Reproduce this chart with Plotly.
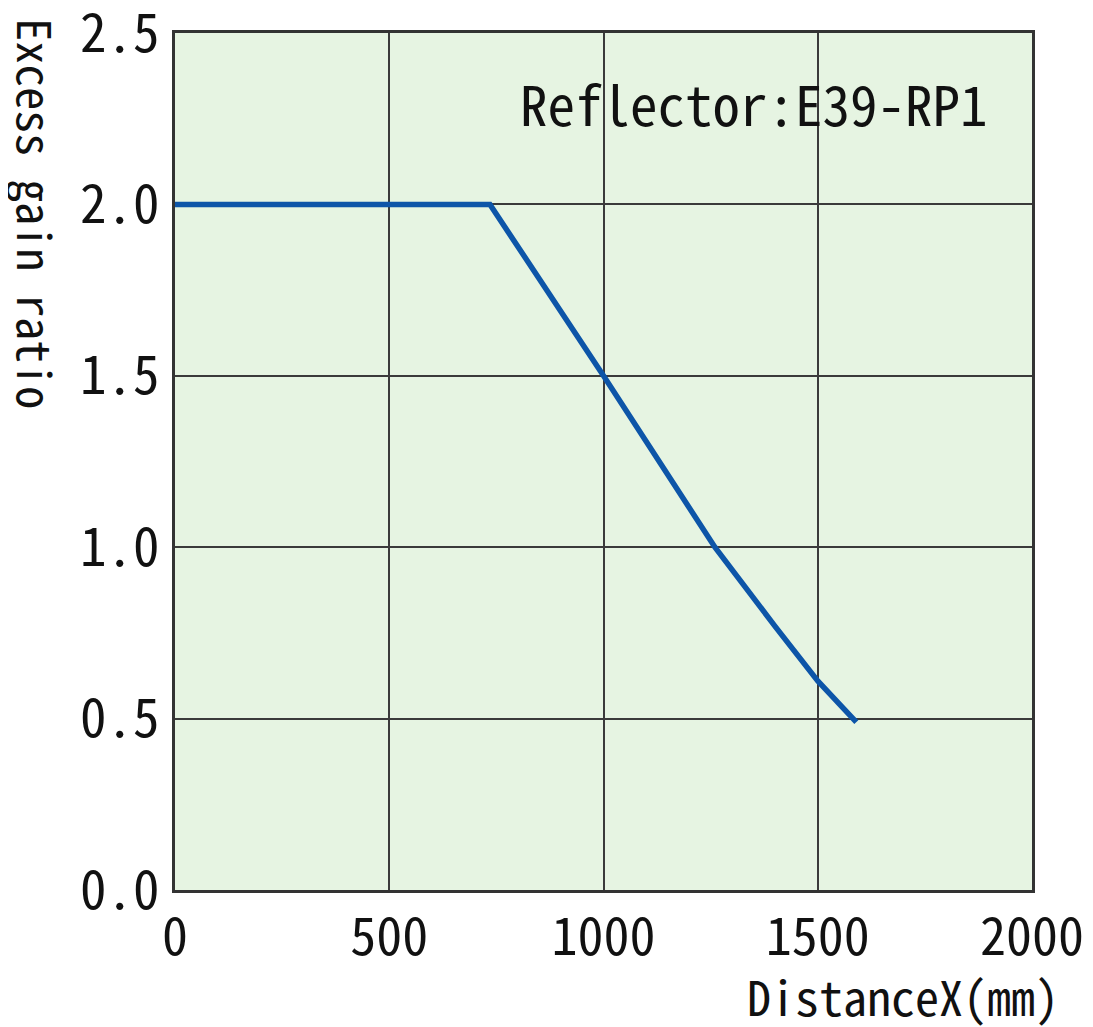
import plotly.graph_objects as go

distance = [0, 735, 1000, 1260, 1400, 1500, 1590]
gain = [2.0, 2.0, 1.5, 1.0, 0.77, 0.61, 0.49]

x_ticks = [0, 500, 1000, 1500, 2000]
x_labels = ["0", "500", "1000", "1500", "2000"]
y_ticks = [0.0, 0.5, 1.0, 1.5, 2.0, 2.5]
y_labels = ["0.0", "0.5", "1.0", "1.5", "2.0", "2.5"]

FONT = "Noto Sans Mono CJK JP, Noto Sans CJK JP, DejaVu Sans Mono"

fig = go.Figure()
fig.add_trace(go.Scatter(x=distance, y=gain, mode="lines",
                         line=dict(color="#0d55a8", width=5.5), showlegend=False))

fig.update_layout(
    width=1093, height=1027,
    margin=dict(l=167, r=69, t=25, b=145, autoexpand=False),
    paper_bgcolor="white",
    plot_bgcolor="#e6f4e2",
    font=dict(family=FONT, color="#111"),
)
fig.update_xaxes(range=[0, 2000.01], tickvals=x_ticks, ticktext=x_labels,
                 showgrid=True, gridcolor="#3a3a3a", gridwidth=1.8,
                 showline=True, linecolor="#333", linewidth=3, mirror=True,
                 ticks="", tickfont=dict(size=52, family=FONT), zeroline=False,
                 ticklabelstandoff=0, ticklabeloverflow="allow", automargin=False)
fig.update_yaxes(range=[0, 2.5001], tickvals=y_ticks, ticktext=y_labels,
                 showgrid=True, gridcolor="#3a3a3a", gridwidth=1.8,
                 showline=True, linecolor="#333", linewidth=3, mirror=True,
                 ticks="", tickfont=dict(size=53, family=FONT), zeroline=False,
                 ticklabelstandoff=2, ticklabeloverflow="allow", automargin=False)

fig.add_annotation(text="Excess gain ratio", xref="paper", yref="paper",
                   x=-0.162, y=1.02, xanchor="center", yanchor="top",
                   textangle=90, showarrow=False,
                   font=dict(size=46, family=FONT, color="#111"))
fig.add_annotation(text="DistanceX(mm)", xref="paper", yref="paper",
                   x=1.034, y=-0.079, xanchor="right", yanchor="top",
                   showarrow=False, font=dict(size=48, family=FONT, color="#111"))
fig.add_annotation(text="Reflector:E39-RP1", xref="paper", yref="paper",
                   x=0.951, y=0.919, xanchor="right", yanchor="middle",
                   showarrow=False, font=dict(size=55, family=FONT, color="#111"))

fig.write_html("out.html")
